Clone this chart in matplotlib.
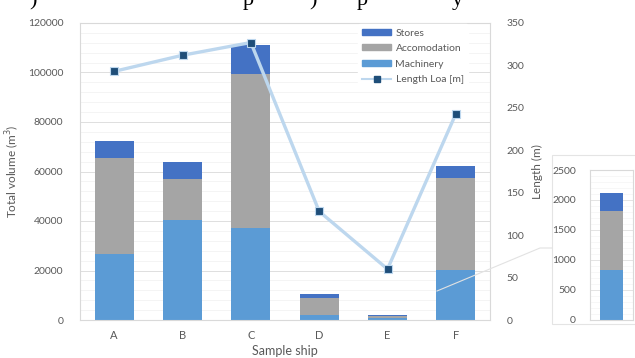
import matplotlib.pyplot as plt
import matplotlib.patches as mpatches
from matplotlib.lines import Line2D
from matplotlib.ticker import MultipleLocator

plt.rcParams['font.family'] = ['Lato', 'DejaVu Sans']

# data: volumes (m3) per sample ship and overall length (m)
ships = ['A', 'B', 'C', 'D', 'E', 'F']
machinery = [26500, 40600, 37100, 2000, 830, 20100]
accomodation = [38900, 16300, 62400, 6700, 985, 37200]
stores = [6900, 6800, 11800, 1800, 295, 4800]
length_loa = [293, 312, 327, 128, 60, 243]

# ship E shown again on its own scale
inset_ship = ['E']
inset_idx = ships.index('E')

c_mach = '#5b9bd5'
c_acc = '#a5a5a5'
c_sto = '#4472c4'
c_line = '#bdd7ee'
c_mark = '#1f4e79'
c_text = '#595959'
c_grid = '#d9d9d9'

fig = plt.figure(figsize=(6.35, 3.58), dpi=100)
W, H = 635, 358


def fx(px):
    return px / W


def fy(py):
    return 1 - py / H


# cut-off line of body text above the chart
for px, s in [(33, ')'), (248, 'p'), (313, ')'), (362, 'p'), (457, 'y')]:
    fig.text(fx(px), fy(5), s, fontsize=16, family='Liberation Serif',
             color='black', va='baseline', ha='center')

ax = fig.add_axes([fx(80), fy(320), fx(490) - fx(80), fy(23) - fy(320)])
x = range(len(ships))
bw = 0.57
bot2 = [m + a for m, a in zip(machinery, accomodation)]
ax.bar(x, machinery, bw, color=c_mach, zorder=2)
ax.bar(x, accomodation, bw, bottom=machinery, color=c_acc, zorder=2)
ax.bar(x, stores, bw, bottom=bot2, color=c_sto, zorder=2)
ax.set_xlim(-0.5, len(ships) - 0.5)
ax.set_ylim(0, 120000)
ax.yaxis.set_major_locator(MultipleLocator(20000))
ax.yaxis.set_minor_locator(MultipleLocator(4000))
ax.grid(axis='y', which='major', color=c_grid, lw=0.6, zorder=0)
ax.grid(axis='y', which='minor', color='#f0f0f0', lw=0.5, zorder=0)
ax.set_xticks(list(x))
ax.set_xticklabels(ships)
ax.tick_params(axis='both', which='both', length=0, colors=c_text, labelsize=7.5)
ax.tick_params(axis='y', pad=12)
ax.tick_params(axis='x', pad=7, labelsize=8)
for sp in ax.spines.values():
    sp.set_color(c_grid)
    sp.set_linewidth(0.8)
ax.set_ylabel('Total volume (m$^3$)', color=c_text, fontsize=8.5)
ax.yaxis.set_label_coords(-0.141, 0.5)
ax.set_xlabel('Sample ship', color=c_text, fontsize=9, labelpad=3)

ax2 = ax.twinx()
ax2.plot(list(x), length_loa, color=c_line, lw=2.4, marker='s', ms=6,
         mfc=c_mark, mec=c_line, mew=0.8, zorder=3)
ax2.set_ylim(0, 350)
ax2.yaxis.set_major_locator(MultipleLocator(50))
ax2.tick_params(axis='y', length=0, colors=c_text, labelsize=7.5, pad=12)
for sp in ax2.spines.values():
    sp.set_visible(False)
ax2.set_ylabel('Length (m)', color=c_text, fontsize=8.5)
ax2.yaxis.set_label_coords(1.102, 0.5)

handles = [mpatches.Patch(color=c_sto, label='Stores'),
           mpatches.Patch(color=c_acc, label='Accomodation'),
           mpatches.Patch(color=c_mach, label='Machinery'),
           Line2D([], [], color=c_line, lw=1.5, marker='s', ms=4,
                  mfc=c_mark, mec=c_mark, label='Length Loa [m]')]
leg = ax2.legend(handles=handles, loc='upper left',
                 bbox_to_anchor=(fx(358), fy(24.5)),
                 bbox_transform=fig.transFigure, frameon=True, fontsize=7.5,
                 handlelength=2.8, handleheight=0.5, labelspacing=0.62,
                 handletextpad=0.4, borderpad=0.4, borderaxespad=0.0)
leg.get_frame().set_facecolor('white')
leg.get_frame().set_edgecolor('white')
leg.get_frame().set_alpha(1)
for t in leg.get_texts():
    t.set_color(c_text)

# connector from bar F to the inset panel
fig.add_artist(Line2D([fx(437), fx(540), fx(552)], [fy(291), fy(248), fy(248)],
                      color='#e2e2e2', lw=0.8))

# inset panel frame, kept under the inset axes
fig.add_artist(mpatches.Rectangle((fx(552), fy(324)), fx(640) - fx(552),
                                  fy(155) - fy(324), facecolor='white',
                                  edgecolor='#e4e4e4', lw=0.8, zorder=-1))

axi = fig.add_axes([fx(590), fy(319.5), fx(633) - fx(590), fy(170) - fy(319.5)])
e_m = [machinery[inset_idx]]
e_a = [accomodation[inset_idx]]
e_s = [stores[inset_idx]]
axi.bar(inset_ship, e_m, 0.55, color=c_mach, zorder=2)
axi.bar(inset_ship, e_a, 0.55, bottom=e_m, color=c_acc, zorder=2)
axi.bar(inset_ship, e_s, 0.55, bottom=[e_m[0] + e_a[0]], color=c_sto, zorder=2)
axi.set_xlim(-0.5, 0.5)
axi.set_ylim(0, 2500)
axi.yaxis.set_major_locator(MultipleLocator(500))
axi.yaxis.set_minor_locator(MultipleLocator(100))
axi.grid(axis='y', which='major', color=c_grid, lw=0.5, zorder=0)
axi.grid(axis='y', which='minor', color='#f2f2f2', lw=0.4, zorder=0)
axi.set_xticks([])
axi.tick_params(axis='y', which='both', length=0, colors=c_text, labelsize=7.5, pad=10)
for sp in axi.spines.values():
    sp.set_color(c_grid)
    sp.set_linewidth(0.8)

fig.savefig('out.png', dpi=100)
